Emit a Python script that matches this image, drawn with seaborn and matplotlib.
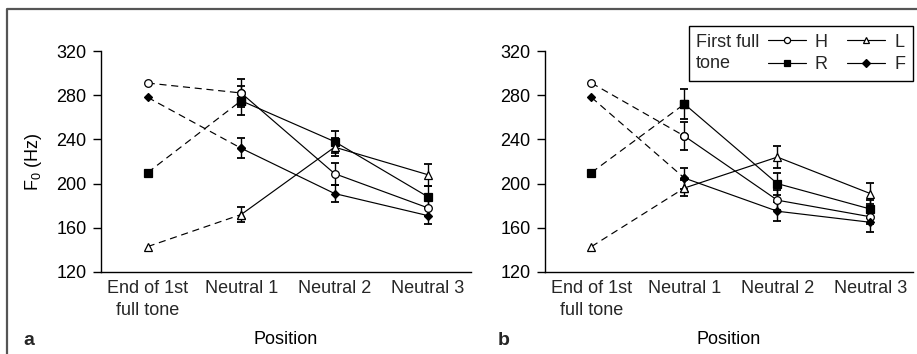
import matplotlib
matplotlib.use("Agg")
import matplotlib.pyplot as plt
import seaborn as sns
import numpy as np
from matplotlib.lines import Line2D
from matplotlib.offsetbox import HPacker

positions = ["End of 1st\nfull tone", "Neutral 1", "Neutral 2", "Neutral 3"]
tones = ["H", "R", "L", "F"]

# panel a (F0 in Hz at each position)
a_H = [291, 282, 209, 178]
a_R = [210, 275, 238, 188]
a_L = [143, 172, 233, 208]
a_F = [278, 232, 191, 171]
# SE at Neutral 1..3
a_H_err = [13, 10, 7]
a_R_err = [13, 10, 10]
a_L_err = [7, 8, 10]
a_F_err = [9, 8, 8]

# panel b
b_H = [291, 243, 185, 170]
b_R = [210, 272, 200, 177]
b_L = [143, 196, 224, 191]
b_F = [278, 205, 175, 165]
b_H_err = [13, 9, 7]
b_R_err = [13.5, 10, 8]
b_L_err = [7.5, 10, 9.5]
b_F_err = [9.5, 8.5, 8.5]

yticks = [120, 160, 200, 240, 280, 320]

sns.set_theme(style="ticks")
plt.rcParams["font.family"] = ["Liberation Sans", "DejaVu Sans"]
plt.rcParams["mathtext.fontset"] = "custom"
plt.rcParams["mathtext.rm"] = "Liberation Sans"
FS = 13

markers = {"H": "o", "R": "s", "L": "^", "F": "D"}
mfc = {"H": "white", "R": "black", "L": "white", "F": "black"}
msz = {"H": 5.5, "R": 6.2, "L": 6.2, "F": 4.5}

W, H = 917, 354
fig = plt.figure(figsize=(W / 100, H / 100), dpi=100)
ax_a = fig.add_axes([101 / W, 1 - 272 / H, 370 / W, 221 / H])
ax_b = fig.add_axes([545 / W, 1 - 272 / H, 368 / W, 221 / H])

panels = [
    (ax_a, {"H": a_H, "R": a_R, "L": a_L, "F": a_F},
     {"H": a_H_err, "R": a_R_err, "L": a_L_err, "F": a_F_err}),
    (ax_b, {"H": b_H, "R": b_R, "L": b_L, "F": b_F},
     {"H": b_H_err, "R": b_R_err, "L": b_L_err, "F": b_F_err}),
]

xs = np.arange(len(positions))
LW = 0.85
for ax, vals, errs in panels:
    for t in tones:
        v = vals[t]
        ax.errorbar(xs[1:], v[1:], yerr=errs[t], fmt="none", ecolor="black",
                    elinewidth=1.0, capsize=2.8, capthick=1.3, zorder=2)
        sns.lineplot(x=xs[:2], y=v[:2], ax=ax, color="black", lw=LW,
                     linestyle=(0, (6, 4)), marker=markers[t],
                     markerfacecolor=mfc[t], markeredgecolor="black",
                     markeredgewidth=0.9, markersize=msz[t],
                     errorbar=None, zorder=3)
        sns.lineplot(x=xs[1:], y=v[1:], ax=ax, color="black", lw=LW,
                     marker=markers[t], markerfacecolor=mfc[t],
                     markeredgecolor="black", markeredgewidth=0.9,
                     markersize=msz[t], errorbar=None, zorder=4)
    ax.set_xlim(-0.5, 3.46)
    ax.set_ylim(120, 320)
    ax.set_yticks(yticks)
    ax.set_yticklabels([str(y) for y in yticks], fontsize=FS)
    ax.set_xticks(xs)
    ax.set_xticklabels(positions, fontsize=FS, linespacing=1.35)
    ax.tick_params(axis="x", length=0, pad=6)
    ax.tick_params(axis="y", length=6, width=1.0, pad=4.5, color="black",
                   labelcolor="black")
    for s in ["top", "right"]:
        ax.spines[s].set_visible(False)
    for s in ["left", "bottom"]:
        ax.spines[s].set_linewidth(1.0)
        ax.spines[s].set_color("black")
    ax.set_xlabel("Position", fontsize=FS, labelpad=9, color="black")
    ax.set_ylabel("")
    ax.grid(False)

ax_a.set_ylabel(r"F$_\mathregular{0}$ (Hz)", fontsize=FS, labelpad=9, color="black")

# legend
handles = [Line2D([], [], color="black", lw=LW, marker=markers[t],
                  markerfacecolor=mfc[t], markeredgecolor="black",
                  markeredgewidth=0.9, markersize=msz[t] * 0.8) for t in tones]
leg = ax_b.legend(handles=handles, labels=tones, ncol=2, loc="upper right",
                  bbox_to_anchor=(1.0, 1.113), borderaxespad=0, fontsize=FS,
                  title="First full\ntone", title_fontsize=FS, frameon=True,
                  fancybox=False, edgecolor="black", framealpha=1,
                  handlelength=2.1, handletextpad=0.5, columnspacing=1.1,
                  labelspacing=0.3, borderpad=0.42)
leg.get_frame().set_linewidth(1.0)
try:
    leg.get_title().set_linespacing(1.3)
    fs = leg._fontsize
    tb = leg._legend_title_box
    hb = leg._legend_handle_box
    newbox = HPacker(pad=leg.borderpad * fs, sep=0.45 * fs, align="top",
                     children=[tb, hb])
    newbox.set_figure(fig)
    newbox.axes = ax_b
    leg._legend_box = newbox
    newbox.set_offset(leg._findoffset)
except Exception:
    pass

# panel letters
fig.text(23 / W, 1 - 345 / H, "a", fontsize=FS + 1, fontweight="bold", va="baseline")
fig.text(498 / W, 1 - 345 / H, "b", fontsize=FS + 1, fontweight="bold", va="baseline")

# outer border (top and left)
fig.add_artist(Line2D([7 / W, 7 / W, 1.0], [0.0, 1 - 9 / H, 1 - 9 / H],
                      transform=fig.transFigure, color="#555555", lw=1.6))

fig.savefig("out.png", dpi=100)
